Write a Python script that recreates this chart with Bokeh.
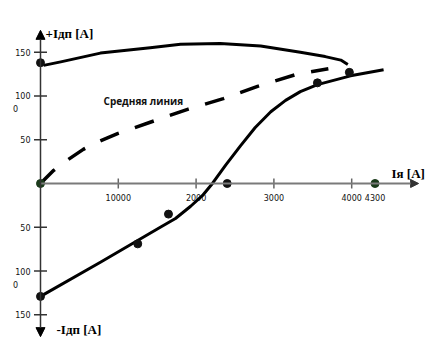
import numpy as np
from bokeh.plotting import figure
from bokeh.models import Range1d, Arrow, NormalHead, Label
from bokeh.embed import file_html
from bokeh.resources import INLINE
from bokeh.core.properties import value

# upper solid curve
top_x = [40, 260, 770, 1410, 1800, 2310, 2830, 3340, 3660, 3860, 3950]
top_y = [135, 139, 149, 155, 159, 160, 157, 150, 145, 141, 136]
# dashed "middle line"
mid_x = [0, 170, 350, 550, 750, 990, 1410, 1900, 2350, 2790, 3300, 3700]
mid_y = [0, 15, 27, 39, 48, 57, 70, 85, 97, 111, 125, 131]
# lower S-shaped curve
bot_x = [0, 770, 1540, 1735, 1930, 2080, 2210, 2380, 2570, 2760, 2960, 3150, 3340, 3560, 3985, 4410]
bot_y = [-129, -90, -50, -40, -26, -14, 0, 21, 43, 64, 82, 95, 105, 113, 123, 130]
# measured points
dot_x = [0, 1250, 1645, 3560, 3970, 0, 2400]
dot_y = [138, -69, -35, 115, 127, -129, 0]
dot2_x = [0, 4300]
dot2_y = [0, 0]

x_ticks = [1000, 2000, 3000, 4000]
x_label_pos = [1000, 2000, 3000, 4000, 4300]
x_labels = ["10000", "2000", "3000", "4000", "4300"]
y_ticks = [150, 100, 50, -50, -100, -150]
y_labels = ["150", "100", "50", "50", "100", "150"]
stray_y = [100, -100]
stray_labels = ["0", "0"]

p = figure(width=434, height=356, x_range=Range1d(-514.1, 5064.3), y_range=Range1d(-197.7, 209.1),
           output_backend="svg", toolbar_location=None, min_border=0,
           x_axis_location=None, y_axis_location=None, outline_line_color=None)
p.grid.visible = False
p.background_fill_color = "white"

# axes
p.add_layout(Arrow(x_start=0, y_start=0, x_end=4860, y_end=0, line_color="#7a7a7a", line_width=2,
                   end=NormalHead(size=8, fill_color="#333333", line_color="#333333")))
p.add_layout(Arrow(x_start=0, y_start=-175, x_end=0, y_end=175, line_color="#333333", line_width=1.5,
                   start=NormalHead(size=9, fill_color="black", line_color="black"),
                   end=NormalHead(size=9, fill_color="black", line_color="black")))

p.scatter(x=[0] * len(y_ticks), y=y_ticks, marker="dash", size=13, line_color="#333333", line_width=1.5)
p.scatter(x=x_ticks, y=[0] * len(x_ticks), marker="dash", angle=np.pi / 2, size=10,
          line_color="#666666", line_width=1.5)

p.text(x=[0] * len(y_ticks), y=y_ticks, text=y_labels, text_font=value("DejaVu Sans"),
       text_font_size="8px", text_align="right", text_baseline="middle", x_offset=-10, text_color="#111111")
p.text(x=[0] * len(stray_y), y=stray_y, text=stray_labels, text_font=value("DejaVu Sans"),
       text_font_size="8px", text_align="center", text_baseline="middle", x_offset=-25, y_offset=13,
       text_color="#111111")
p.text(x=x_label_pos, y=[0] * len(x_label_pos), text=x_labels, text_font=value("DejaVu Sans"),
       text_font_size="8px", text_align="center", text_baseline="middle", y_offset=14, text_color="#111111")

# curves
p.line(top_x, top_y, line_color="black", line_width=3, line_join="round")
p.line(mid_x, mid_y, line_color="black", line_width=3.5, line_dash="20 17")
p.line(bot_x, bot_y, line_color="black", line_width=3, line_join="round")

p.scatter(dot_x, dot_y, size=8, color="#111111")
p.scatter(dot2_x, dot2_y, size=8, color="#1b3b1b")

# titles
for txt, x, y in [("+Iдп [A]", 64, 171), ("-Iдп [A]", 206, -167), ("Iя [A]", 4512, 11)]:
    p.add_layout(Label(x=x, y=y, text=txt, text_font="Liberation Serif", text_font_style="bold",
                       text_font_size="13px", text_baseline="middle", text_color="black"))
p.add_layout(Label(x=810, y=94, text="Средняя линия", text_font="Open Sans", text_font_style="bold",
                   text_font_size="10px", text_baseline="middle", text_color="#111111"))

open("out.html", "w").write(file_html(p, INLINE))
